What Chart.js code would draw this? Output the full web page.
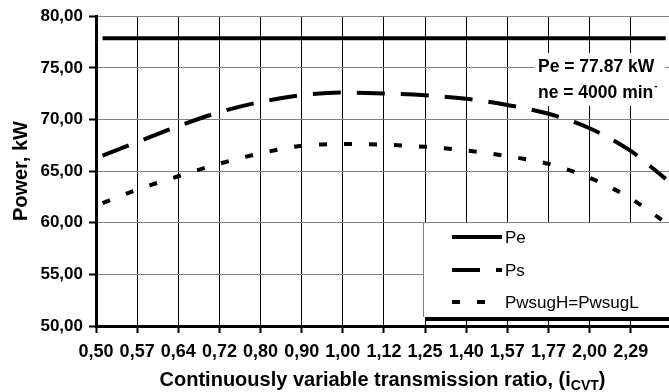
<!DOCTYPE html>
<html>
<head>
<meta charset="utf-8">
<script src="https://cdn.jsdelivr.net/npm/chart.js@4.4.1/dist/chart.umd.min.js"></script>
<style>
  body { margin: 0; background: #fff; overflow: hidden; }
  canvas { display: block; }
</style>
</head>
<body>
<canvas id="cvtChart" width="669" height="392"></canvas>
<script>
// tick labels of the transmission ratio axis (one per category step)
const ratioLabels = ['0,50', '0,57', '0,64', '0,72', '0,80', '0,90', '1,00', '1,12', '1,25', '1,40', '1,57', '1,77', '2,00', '2,29'];
// positions of the sampled points, in category steps
const curveSteps = [0.16, 1, 2, 3, 4, 5, 6, 7, 8, 9, 10, 11, 12, 13, 13.85];
const peSteps = [0.16, 13.85];
const peValues = [77.87, 77.87];
const psValues = [66.5, 67.8, 69.35, 70.7, 71.7, 72.35, 72.6, 72.52, 72.35, 72.0, 71.4, 70.55, 69.15, 66.95, 64.25];
const pwsugValues = [61.9, 63.2, 64.5, 65.72, 66.72, 67.45, 67.63, 67.56, 67.35, 67.0, 66.45, 65.7, 64.35, 62.35, 60.0];
const yTicks = [50, 55, 60, 65, 70, 75, 80];

const FONT = '"Liberation Sans", Arial, sans-serif';

const toPoints = (xs, ys) => xs.map((x, i) => ({ x: x, y: ys[i] }));

// white note box with engine data
const notePlugin = {
    id: 'note',
    beforeDatasetsDraw(chart) {
        const c = chart.ctx;
        c.save();
        c.fillStyle = '#fff';
        c.fillRect(535, 53, 130, 53);
        c.beginPath();
        c.rect(535, 53, 123, 53);
        c.clip();
        c.fillStyle = '#000';
        c.font = 'bold 17.5px ' + FONT;
        c.textBaseline = 'middle';
        c.fillText('Pe = 77.87 kW', 538, 67);
        c.fillText('ne = 4000 min', 538, 93);
        const w = c.measureText('ne = 4000 min').width;
        c.font = 'bold 10px ' + FONT;
        c.fillText('-1', 538 + w + 1, 86);
        c.restore();
    }
};

// legend box bottom right, with shadow
const legendPlugin = {
    id: 'legendBox',
    afterDraw(chart) {
        const c = chart.ctx;
        c.save();
        c.fillStyle = '#000';
        c.fillRect(425, 317, 250, 4);
        c.fillStyle = '#fff';
        c.fillRect(423, 222, 250, 95);
        c.strokeStyle = '#808080';
        c.lineWidth = 1;
        c.beginPath();
        c.moveTo(423.5, 317);
        c.lineTo(423.5, 222.5);
        c.lineTo(669, 222.5);
        c.stroke();
        const rows = [237, 270, 302];
        chart.data.datasets.forEach((ds, i) => {
            const y = rows[i];
            c.strokeStyle = '#000';
            c.lineWidth = 4;
            c.lineCap = 'butt';
            c.setLineDash(ds.borderDash || []);
            c.beginPath();
            c.moveTo(452, y);
            c.lineTo(502, y);
            c.stroke();
            c.setLineDash([]);
            c.fillStyle = '#000';
            c.font = '17px ' + FONT;
            c.textBaseline = 'middle';
            c.fillText(ds.label, 505, y + 1);
        });
        c.restore();
    }
};

// x axis title with subscript
const xTitlePlugin = {
    id: 'xTitle',
    afterDraw(chart) {
        const c = chart.ctx;
        const a = chart.chartArea;
        c.save();
        c.fillStyle = '#000';
        c.textBaseline = 'alphabetic';
        const main = 'Continuously variable transmission ratio, (i';
        const sub = 'CVT';
        c.font = 'bold 20px ' + FONT;
        const w1 = c.measureText(main).width;
        const w3 = c.measureText(')').width;
        c.font = 'bold 14px ' + FONT;
        const w2 = c.measureText(sub).width;
        let x = (a.left + a.right) / 2 - (w1 + w2 + w3) / 2;
        const y = 386;
        c.font = 'bold 20px ' + FONT;
        c.fillText(main, x, y);
        x += w1;
        c.font = 'bold 14px ' + FONT;
        c.fillText(sub, x, y + 4);
        x += w2;
        c.font = 'bold 20px ' + FONT;
        c.fillText(')', x, y);
        c.restore();
    }
};

const lineStyle = { pointRadius: 0, borderWidth: 4, borderColor: '#000', borderCapStyle: 'butt', fill: false };

new Chart(document.getElementById('cvtChart'), {
    type: 'line',
    data: {
        datasets: [
            Object.assign({ label: 'Pe', data: toPoints(peSteps, peValues), tension: 0 }, lineStyle),
            Object.assign({ label: 'Ps', data: toPoints(curveSteps, psValues), borderDash: [28, 16], cubicInterpolationMode: 'monotone' }, lineStyle),
            Object.assign({ label: 'PwsugH=PwsugL', data: toPoints(curveSteps, pwsugValues), borderDash: [8, 17], cubicInterpolationMode: 'monotone' }, lineStyle)
        ]
    },
    options: {
        responsive: false,
        animation: false,
        devicePixelRatio: 1,
        layout: { padding: { top: 15, right: 0, left: 0, bottom: 0 } },
        plugins: { legend: { display: false }, tooltip: { enabled: false } },
        scales: {
            x: {
                type: 'linear',
                min: 0,
                max: 13.93,
                afterBuildTicks: s => { s.ticks = ratioLabels.map((_, i) => ({ value: i })); },
                afterFit: s => { s.height = 66; },
                ticks: {
                    autoSkip: false,
                    maxRotation: 0,
                    padding: 8,
                    color: '#000',
                    font: { family: FONT, size: 18, weight: 'bold' },
                    callback: v => ratioLabels[v]
                },
                grid: { color: '#000', lineWidth: 1, tickLength: 7, tickColor: '#000', tickWidth: 2 },
                border: { color: '#000', width: 3 }
            },
            y: {
                min: 50,
                max: 80,
                afterBuildTicks: s => { s.ticks = yTicks.map(v => ({ value: v })); },
                afterFit: s => { s.width = 96; },
                ticks: {
                    padding: 6,
                    color: '#000',
                    font: { family: FONT, size: 17, weight: 'bold' },
                    callback: v => v.toFixed(2).replace('.', ',')
                },
                grid: { color: '#808080', lineWidth: 1, tickLength: 7, tickColor: '#000', tickWidth: 2 },
                border: { color: '#000', width: 3 },
                title: {
                    display: true,
                    text: 'Power, kW',
                    color: '#000',
                    font: { family: FONT, size: 20, weight: 'bold' },
                    padding: { top: 9, bottom: 0 }
                }
            }
        }
    },
    plugins: [notePlugin, legendPlugin, xTitlePlugin]
});
</script>
</body>
</html>
